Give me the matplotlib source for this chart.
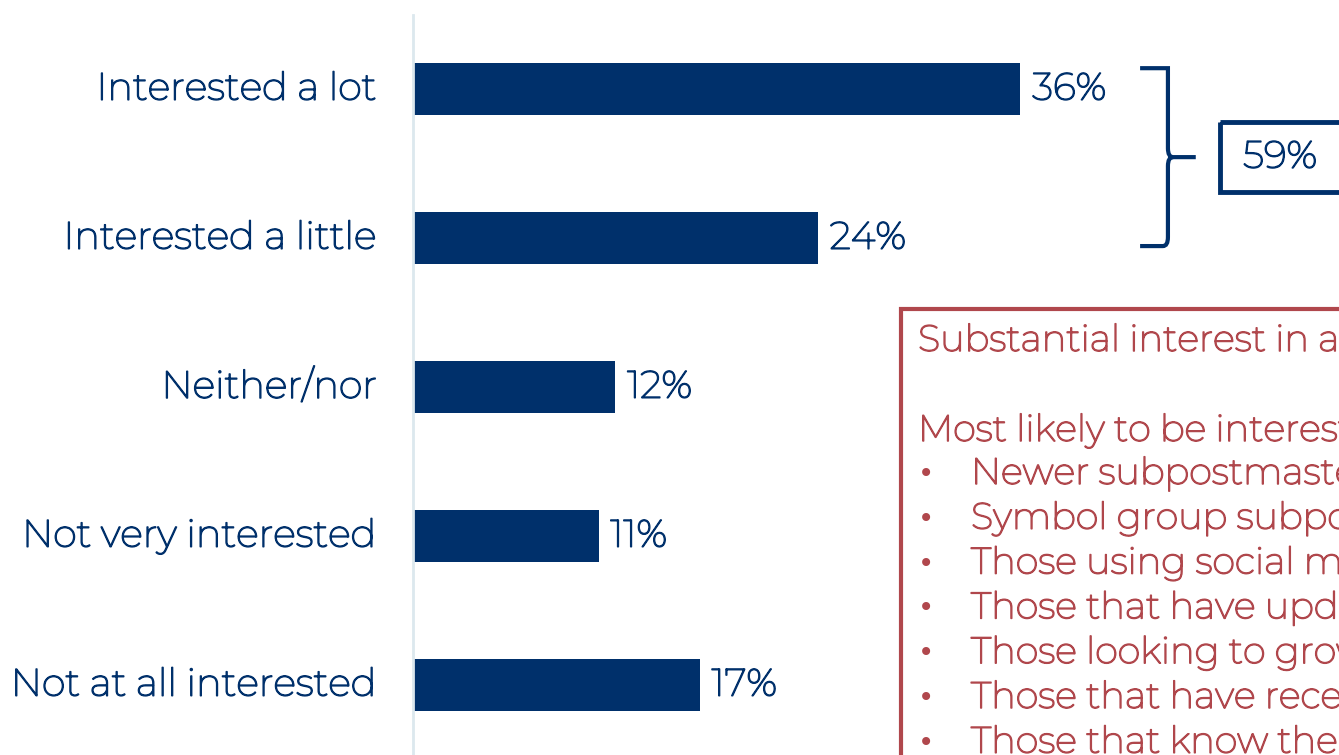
import matplotlib.pyplot as plt
import matplotlib.patheffects as pe
from matplotlib.path import Path
from matplotlib.patches import PathPatch, Rectangle

plt.rcParams['font.family'] = ['Montserrat', 'DejaVu Sans']

# survey answers, top to bottom
answers = ['Interested a lot', 'Interested a little', 'Neither/nor',
           'Not very interested', 'Not at all interested']
shares = [36, 24, 12, 11, 17]
interested_total = 59

note_title = 'Substantial interest in a loyalty scheme'
note_intro = 'Most likely to be interested:'
note_bullets = ['Newer subpostmasters',
                'Symbol group subpostmasters',
                'Those using social media for their branch',
                'Those that have updated their branch recently',
                'Those looking to grow their business',
                'Those that have received training recently',
                'Those that know their customers well']

navy = '#00306B'
red = '#B0474C'
fs = 27.5
nfs = 26.5


def thicken(color):
    # the variable font only renders its thin instance, so add a stroke
    return [pe.withStroke(linewidth=1.1, foreground=color)]


fig = plt.figure(figsize=(13.39, 7.55), dpi=100)
ax = fig.add_axes([413 / 1339, 0, 1 - 413 / 1339, 1 - 15 / 755])

ypos = list(range(len(answers)))
ax.barh(ypos, shares, height=0.35, color=navy)
ax.set_xlim(0, (1339 - 413) / 16.87)
ax.set_ylim(4.47, -0.497)

for y, v in zip(ypos, shares):
    ax.text(v + 0.7, y, f'{v}%', va='center', ha='left', fontsize=fs,
            color=navy, path_effects=thicken(navy))
    ax.text(-2.1, y, answers[y], va='center', ha='right', fontsize=fs,
            color=navy, path_effects=thicken(navy))

for s in ['top', 'right', 'bottom']:
    ax.spines[s].set_visible(False)
ax.spines['left'].set_color('#DCE8EE')
ax.spines['left'].set_linewidth(2)
ax.set_xticks([])
ax.set_yticks([])

# curly brace joining the two "interested" bars
top, bot = -0.14, 1.054
mid = (top + bot) / 2
x0, x1, x2 = 43.1, 44.75, 46.4
r = 0.06
verts = [(x0, top), (x1 - 0.3, top), (x1, top), (x1, top + r),
         (x1, mid - r), (x1, mid), (x1 + 0.3, mid), (x2, mid),
         (x1 + 0.3, mid), (x1, mid), (x1, mid + r),
         (x1, bot - r), (x1, bot), (x1 - 0.3, bot), (x0, bot)]
codes = [Path.MOVETO, Path.CURVE3, Path.CURVE3, Path.LINETO,
         Path.LINETO, Path.CURVE3, Path.CURVE3, Path.LINETO,
         Path.MOVETO, Path.CURVE3, Path.CURVE3,
         Path.LINETO, Path.CURVE3, Path.CURVE3, Path.LINETO]
ax.add_patch(PathPatch(Path(verts, codes), fill=False, edgecolor=navy,
                       lw=3, clip_on=False, capstyle='butt'))

ax.add_patch(Rectangle((47.85, mid - 0.235), 10, 0.47, fill=False,
                       edgecolor=navy, lw=3.5, clip_on=False))
ax.text(49.2, mid, f'{interested_total}%', va='center', ha='left',
        fontsize=fs, color=navy, path_effects=thicken(navy))

# call-out box on the right
fig.add_artist(Rectangle((901 / 1339, -0.1), 0.5, 1 - 309 / 755 + 0.1,
                         transform=fig.transFigure, fill=False,
                         edgecolor=red, lw=3))
fig.text(918 / 1339, 1 - 341 / 755, note_title, va='center', ha='left',
         fontsize=nfs, color=red, path_effects=thicken(red))
fig.text(918 / 1339, 1 - 431 / 755, note_intro, va='center', ha='left',
         fontsize=nfs, color=red, path_effects=thicken(red))
for i, b in enumerate(note_bullets):
    yy = 1 - (474 + 44.8 * i) / 755
    fig.text(918 / 1339, yy, '\u2022', va='center', ha='left',
             fontsize=20, color=red, family='DejaVu Sans')
    fig.text(971 / 1339, yy, b, va='center', ha='left', fontsize=nfs,
             color=red, path_effects=thicken(red))

fig.savefig('out.png', dpi=100)
